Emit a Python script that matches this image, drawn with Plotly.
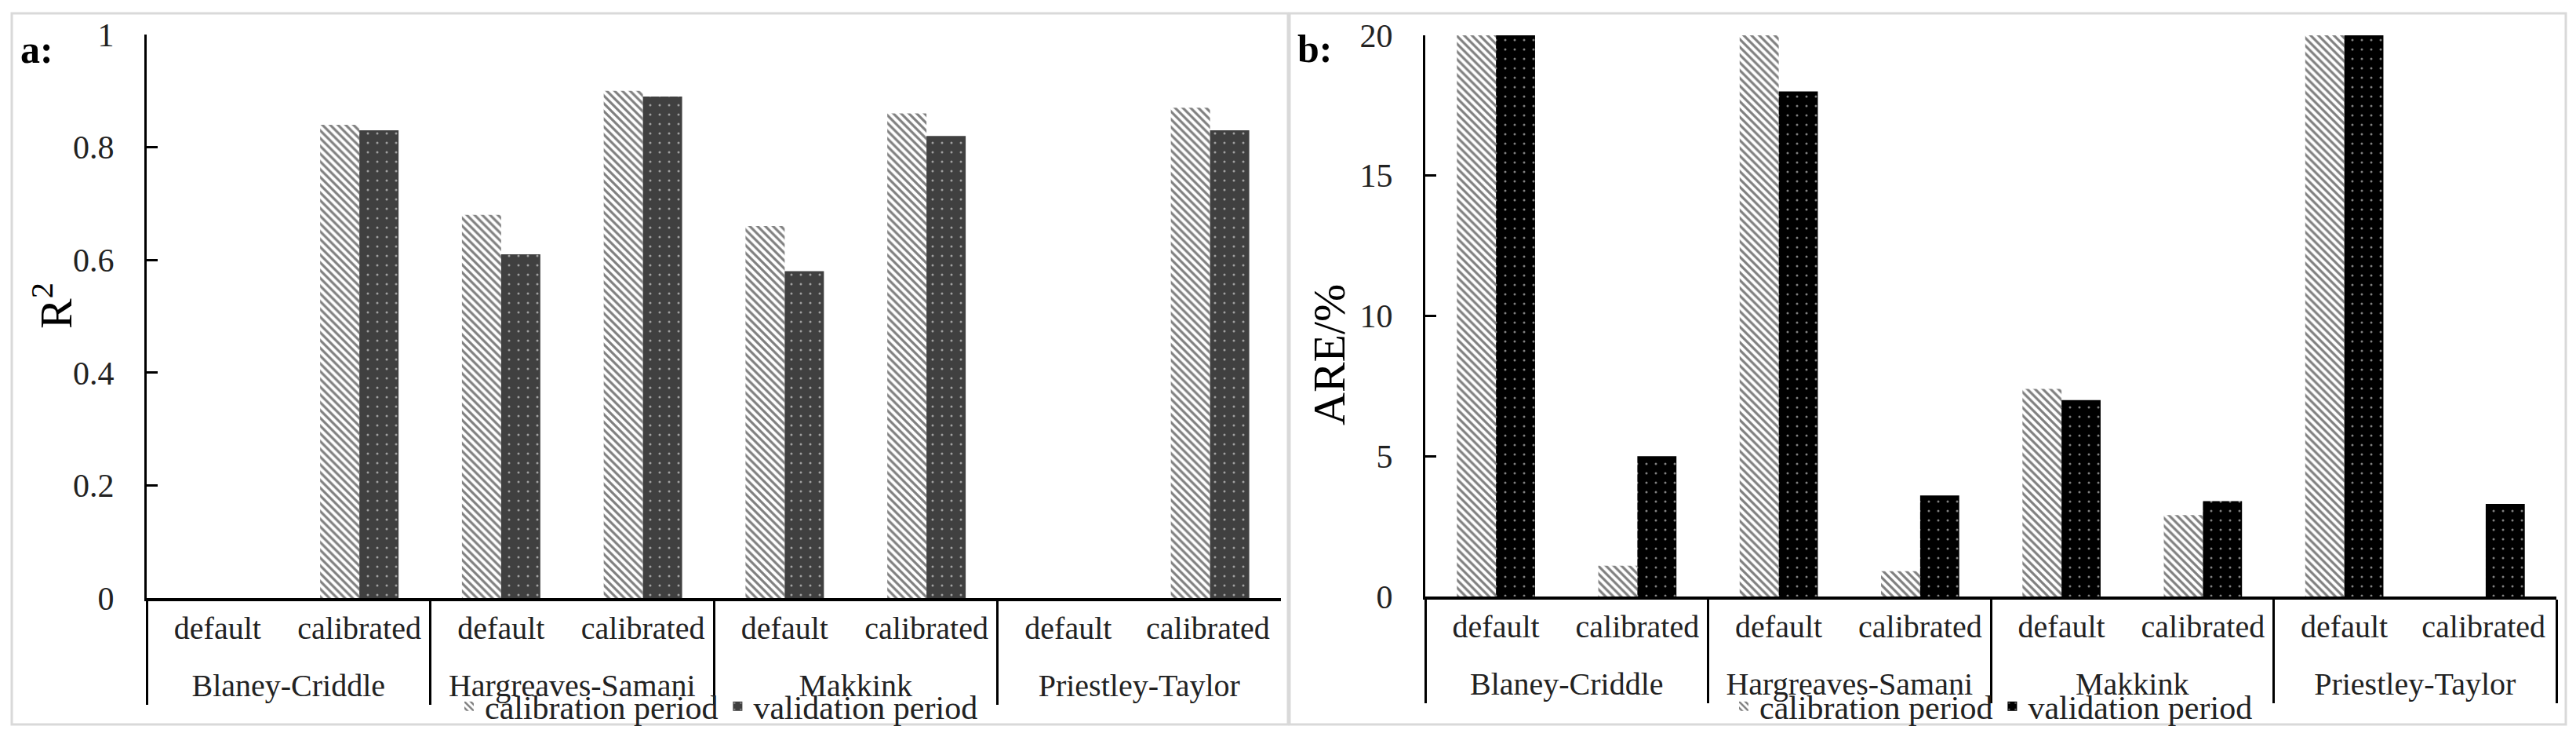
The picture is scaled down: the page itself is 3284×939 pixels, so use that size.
import plotly.graph_objects as go

# ---- data ----
methods = ["Blaney-Criddle", "Hargreaves-Samani", "Makkink", "Priestley-Taylor"]
settings = ["default", "calibrated"]
series_names = ["calibration period", "validation period"]

r2_calibration = [None, 0.84, 0.68, 0.90, 0.66, 0.86, None, 0.87]
r2_validation = [None, 0.83, 0.61, 0.89, 0.58, 0.82, None, 0.83]

are_calibration = [20, 1.1, 20, 0.9, 7.4, 2.9, 20, None]
are_validation = [20, 5.0, 18, 3.6, 7.0, 3.4, 20, 3.3]

r2_ticks = [0, 0.2, 0.4, 0.6, 0.8, 1]
are_ticks = [0, 5, 10, 15, 20]

# ---- layout constants ----
W, H = 3284, 939
FONT = "Liberation Serif"


def px(x):
    return x / W


def py(y):
    return 1 - y / H


level_group = [m for m in methods for s in settings]
level_sub = [s for m in methods for s in settings]
# an invisible tall hair-space on the last sub label deepens the first label row,
# which pushes the method-name row further below (as in the reference)
spacer = '<span style="font-size:64px">\u200a</span>'
level_sub_disp = level_sub[:-1] + [level_sub[-1] + spacer]
x_cats = [level_group, level_sub_disp]

hatch = dict(shape="\\", fgcolor="black", bgcolor="white", size=7, solidity=0.45)


def dots(bg):
    return dict(shape=".", fgcolor="white", bgcolor=bg, size=12, solidity=0.05)


fig = go.Figure()

# panel a
fig.add_trace(go.Bar(x=x_cats, y=r2_calibration, name=series_names[0], xaxis="x", yaxis="y",
                     marker=dict(color="white", pattern=hatch, line=dict(width=0)), legend="legend"))
fig.add_trace(go.Bar(x=x_cats, y=r2_validation, name=series_names[1], xaxis="x", yaxis="y",
                     marker=dict(color="#404040", pattern=dots("#404040"), line=dict(width=0)), legend="legend"))
# panel b
fig.add_trace(go.Bar(x=x_cats, y=are_calibration, name=series_names[0], xaxis="x2", yaxis="y2",
                     marker=dict(color="white", pattern=hatch, line=dict(width=0)), legend="legend2"))
fig.add_trace(go.Bar(x=x_cats, y=are_validation, name=series_names[1], xaxis="x2", yaxis="y2",
                     marker=dict(color="black", pattern=dots("black"), line=dict(width=0)), legend="legend2"))

xaxis_common = dict(
    type="multicategory", showline=True, linecolor="black", linewidth=4,
    ticks="", showgrid=False, zeroline=False, showdividers=True,
    dividercolor="black", dividerwidth=3, automargin=False,
    tickfont=dict(family=FONT, size=40, color="#222"),
)
yaxis_common = dict(
    showline=True, linecolor="black", linewidth=3, ticks="inside", ticklen=14,
    tickwidth=3, tickcolor="black", showgrid=False, zeroline=False, automargin=False,
    tickfont=dict(family=FONT, size=42, color="#222"), ticklabelstandoff=30,
)

fig.update_layout(
    width=W, height=H,
    margin=dict(l=0, r=0, t=0, b=0),
    paper_bgcolor="white", plot_bgcolor="white",
    barmode="group", bargap=0.447, bargroupgap=0,
    font=dict(family=FONT, color="#222"),
    xaxis=dict(domain=[px(187), px(1633)], anchor="y", **xaxis_common),
    xaxis2=dict(domain=[px(1817), px(3259)], anchor="y2", **xaxis_common),
    yaxis=dict(domain=[py(762), py(44)], anchor="x", range=[0, 1], tickvals=r2_ticks, **yaxis_common),
    yaxis2=dict(domain=[py(760), py(45)], anchor="x2", range=[0, 20], tickvals=are_ticks, **yaxis_common),
    legend=dict(orientation="h", x=px(915), xanchor="center", y=py(900), yanchor="middle",
                bgcolor="rgba(0,0,0,0)", font=dict(family=FONT, size=42, color="#222")),
    legend2=dict(orientation="h", x=px(2540), xanchor="center", y=py(900), yanchor="middle",
                 bgcolor="rgba(0,0,0,0)", font=dict(family=FONT, size=42, color="#222")),
    shapes=[
        dict(type="rect", xref="paper", yref="paper", x0=px(15), x1=px(1642), y0=py(923), y1=py(17),
             line=dict(color="#d9d9d9", width=3), layer="below"),
        dict(type="rect", xref="paper", yref="paper", x0=px(1644), x1=px(3271), y0=py(923), y1=py(17),
             line=dict(color="#d9d9d9", width=3), layer="below"),
    ],
    annotations=[
        dict(text="<b>a:</b>", xref="paper", yref="paper", x=px(24), y=py(63), xanchor="left",
             yanchor="middle", showarrow=False, font=dict(family=FONT, size=50, color="black")),
        dict(text="<b>b:</b>", xref="paper", yref="paper", x=px(1652), y=py(62), xanchor="left",
             yanchor="middle", showarrow=False, font=dict(family=FONT, size=50, color="black")),
        dict(text="R<sup>2</sup>", xref="paper", yref="paper", x=px(67), y=py(390), xanchor="center",
             yanchor="middle", textangle=-90, showarrow=False, font=dict(family=FONT, size=58, color="black")),
        dict(text="ARE/%", xref="paper", yref="paper", x=px(1694), y=py(452), xanchor="center",
             yanchor="middle", textangle=-90, showarrow=False, font=dict(family=FONT, size=58, color="black")),
    ],
)

fig.write_html("out.html", config={"displayModeBar": False},
               post_script="document.body.style.margin='0';document.body.style.overflow='hidden';")
